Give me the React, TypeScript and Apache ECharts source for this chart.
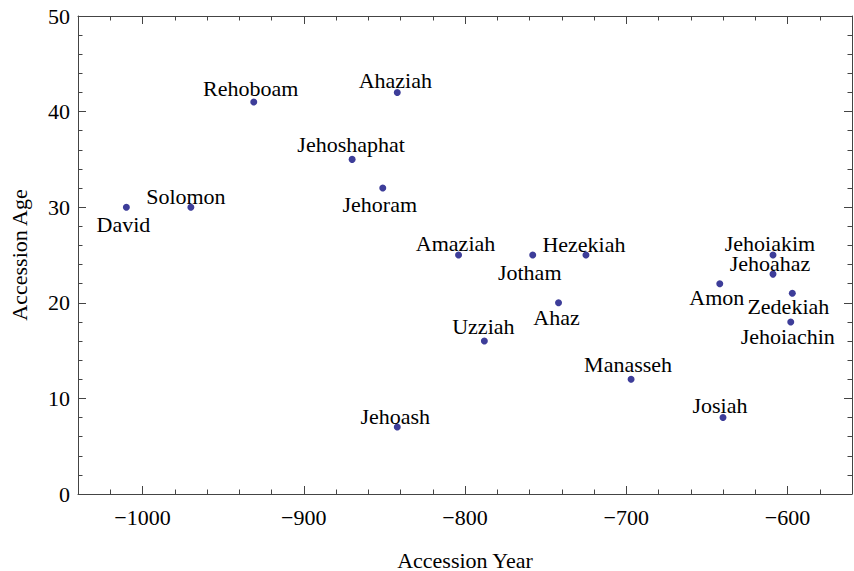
import React, { useEffect, useRef } from "react";
import * as echarts from "echarts";

const kings: string[] = [
  "David", "Solomon", "Rehoboam", "Jehoshaphat", "Jehoram", "Ahaziah", "Jehoash",
  "Amaziah", "Uzziah", "Jotham", "Ahaz", "Hezekiah", "Manasseh", "Amon", "Josiah",
  "Jehoahaz", "Jehoiakim", "Jehoiachin", "Zedekiah",
];
const accessionYear: number[] = [
  -1010, -970, -931, -870, -851, -842, -842,
  -804, -788, -758, -742, -725, -697, -642, -640,
  -609, -609, -598, -597,
];
const accessionAge: number[] = [
  30, 30, 41, 35, 32, 42, 7,
  25, 16, 25, 20, 25, 12, 22, 8,
  23, 25, 18, 21,
];

// label nudges (pixels, relative to the point) — layout, not data
const labelOffsets: [number, number][] = [
  [-3, 17], [-5, -11], [-3, -14], [-1, -15], [-3, 16], [-2, -12], [-2, -11],
  [-3, -12], [-1, -15], [-3, 17], [-2, 15], [-2, -11], [-3, -15], [-3, 14], [-3, -12],
  [-3, -11], [-3, -12], [-3, 15], [-4, 13],
];

const xAxisTitle = "Accession Year";
const yAxisTitle = "Accession Age";

const FONT = "'Liberation Serif', 'Times New Roman', serif";
const AXIS_COLOR = "#444";

function fmt(v: number): string {
  return v < 0 ? "\u2212" + Math.abs(v) : String(v);
}

export default function App() {
  const ref = useRef<HTMLDivElement>(null);
  useEffect(() => {
    if (!ref.current) return;
    const chart = echarts.init(ref.current, null, { renderer: "svg" });
    const baseAxis = {
      axisLine: { show: true, onZero: false, lineStyle: { color: AXIS_COLOR, width: 1 } },
      axisTick: { show: true, inside: true, length: 8, lineStyle: { color: AXIS_COLOR } },
      minorTick: { show: true, splitNumber: 5, length: 4.5, lineStyle: { color: AXIS_COLOR } },
      splitLine: { show: false },
      minorSplitLine: { show: false },
    };
    const data = kings.map((name, i) => ({
      name,
      value: [accessionYear[i], accessionAge[i]],
    }));
    chart.setOption({
      animation: false,
      backgroundColor: "#fff",
      grid: {
        left: 78,
        top: 16,
        right: 2,
        bottom: 77,
        containLabel: false,
        outerBoundsMode: "none",
      },
      xAxis: [
        {
          ...baseAxis,
          type: "value",
          position: "bottom",
          min: -1040,
          max: -560,
          name: xAxisTitle,
          nameLocation: "middle",
          nameGap: 55,
          nameTextStyle: { fontFamily: FONT, fontSize: 22, color: "#000" },
          axisLabel: {
            show: true,
            margin: 12,
            fontFamily: FONT,
            fontSize: 22,
            color: "#000",
            showMinLabel: false,
            showMaxLabel: false,
            formatter: (v: number) => fmt(v),
          },
        },
        {
          ...baseAxis,
          type: "value",
          position: "top",
          min: -1040,
          max: -560,
          axisLabel: { show: false },
        },
      ],
      yAxis: [
        {
          ...baseAxis,
          type: "value",
          position: "left",
          min: 0,
          max: 50,
          interval: 10,
          name: yAxisTitle,
          nameLocation: "middle",
          nameGap: 48,
          nameRotate: 90,
          nameTextStyle: { fontFamily: FONT, fontSize: 22, color: "#000" },
          axisLabel: {
            show: true,
            margin: 8,
            fontFamily: FONT,
            fontSize: 22,
            color: "#000",
            formatter: (v: number) => fmt(v),
          },
        },
        {
          ...baseAxis,
          type: "value",
          position: "right",
          min: 0,
          max: 50,
          interval: 10,
          axisLabel: { show: false },
        },
      ],
      series: [
        {
          type: "scatter",
          xAxisIndex: 0,
          yAxisIndex: 0,
          symbol: "circle",
          symbolSize: 7,
          itemStyle: { color: "#3d3d99", opacity: 1 },
          label: {
            show: true,
            position: "inside",
            formatter: "{b}",
            fontFamily: FONT,
            fontSize: 22,
            color: "#000",
            align: "center",
            verticalAlign: "middle",
          },
          labelLayout: (p: any) => ({
            dx: labelOffsets[p.dataIndex][0],
            dy: labelOffsets[p.dataIndex][1],
            hideOverlap: false,
          }),
          emphasis: { disabled: true },
          data,
        },
      ],
    });
    return () => chart.dispose();
  }, []);
  return (
    <div
      ref={ref}
      style={{ position: "absolute", left: 0, top: 0, width: 854, height: 571, background: "#fff" }}
    />
  );
}
